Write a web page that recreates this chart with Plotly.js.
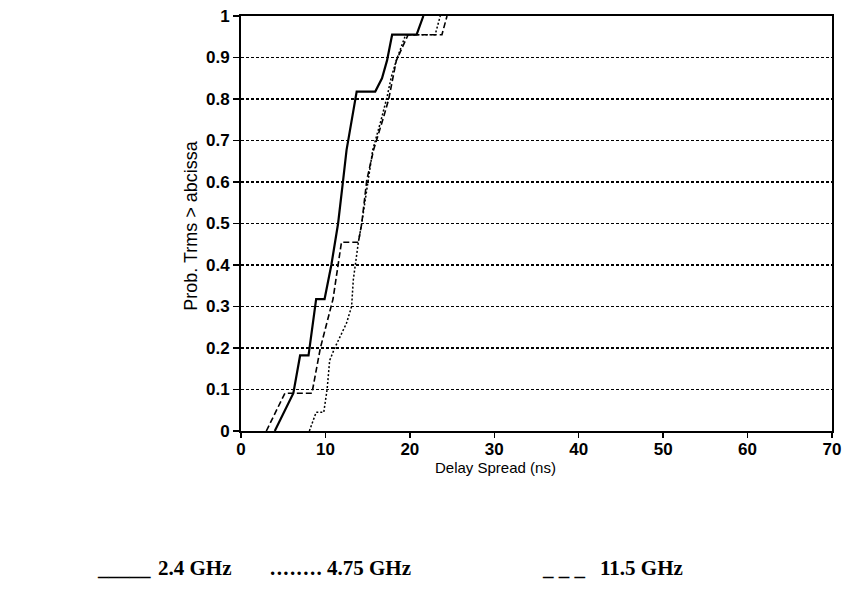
<!DOCTYPE html>
<html>
<head>
<meta charset="utf-8">
<script src="https://cdn.plot.ly/plotly-3.0.1.min.js"></script>
<style>
  html, body { margin: 0; padding: 0; background: #fff; }
  #chart { width: 845px; height: 590px; }
</style>
</head>
<body>
<div id="chart"></div>
<script>
// Cumulative distributions of RMS delay spread (ns) at three carrier frequencies
const delay24 = [4.0, 6.2, 7.0, 8.0, 8.9, 9.9, 10.7, 11.5, 12.1, 12.5, 13.7, 15.9, 16.7, 17.3, 17.9, 20.8, 21.6];
const prob24  = [0, 0.091, 0.182, 0.182, 0.318, 0.318, 0.40, 0.50, 0.605, 0.677, 0.818, 0.818, 0.85, 0.893, 0.955, 0.955, 1.0];

const delay475 = [8.1, 8.9, 9.8, 10.2, 10.5, 11.1, 12.5, 13.1, 13.3, 13.9, 14.3, 15.0, 15.6, 16.6, 17.3, 17.8, 18.4, 19.5, 23.0, 23.6];
const prob475  = [0, 0.045, 0.045, 0.10, 0.17, 0.20, 0.26, 0.30, 0.364, 0.455, 0.50, 0.60, 0.677, 0.75, 0.805, 0.853, 0.893, 0.955, 0.955, 1.0];

const delay115 = [3.0, 5.2, 8.4, 9.4, 10.9, 11.9, 13.9, 14.3, 14.9, 15.7, 16.9, 17.5, 18.4, 19.8, 23.8, 24.4];
const prob115  = [0, 0.091, 0.091, 0.20, 0.318, 0.455, 0.455, 0.50, 0.605, 0.677, 0.757, 0.80, 0.893, 0.955, 0.955, 1.0];

const xTicks = [0, 10, 20, 30, 40, 50, 60, 70];
const yTicks = [0, 0.1, 0.2, 0.3, 0.4, 0.5, 0.6, 0.7, 0.8, 0.9, 1];
const yTickText = ['0', '0.1', '0.2', '0.3', '0.4', '0.5', '0.6', '0.7', '0.8', '0.9', '1'];

// key line under the chart: line sample + frequency label
const legendSamples = ['_____', '........', '_ _ _'];
const legendLabels = ['2.4 GHz', '4.75 GHz', '11.5 GHz'];

// plot box in pixels
const L = 241, R = 13, T = 16, B = 158.5;
const W = 845, H = 590;
const pw = W - L - R, ph = H - T - B;
const px = x => (x - L) / pw;
const py = y => (H - B - y) / ph;

const traces = [
  { x: delay24, y: prob24, mode: 'lines', line: { color: '#000', width: 2.2 }, hoverinfo: 'skip' },
  { x: delay475, y: prob475, mode: 'lines', line: { color: '#000', width: 1.5, dash: '2px,2px' }, hoverinfo: 'skip' },
  { x: delay115, y: prob115, mode: 'lines', line: { color: '#000', width: 1.6, dash: '6px,3px' }, hoverinfo: 'skip' }
];

const tickFont = { family: 'Liberation Sans, Arial, sans-serif', size: 17, color: '#000', weight: 'bold' };

const annotations = [
  { text: 'Delay Spread (ns)', xref: 'paper', yref: 'paper', x: px(495), y: py(468),
    xanchor: 'center', yanchor: 'middle', showarrow: false,
    font: { family: 'Liberation Sans, Arial, sans-serif', size: 15, color: '#000' } },
  { text: 'Prob. Trms &gt; abcissa', xref: 'paper', yref: 'paper', x: px(191), y: py(226),
    xanchor: 'center', yanchor: 'middle', textangle: -90, showarrow: false,
    font: { family: 'Liberation Sans, Arial, sans-serif', size: 18, color: '#000' } }
];

const legendFont = { family: 'Liberation Serif, Times New Roman, serif', size: 21, color: '#000', weight: 'bold' };
const sampleX = [95, 268, 540];
const labelX = [156, 325, 598];
legendSamples.forEach((s, i) => {
  const spacing = i === 1 ? 1.4 : 0;
  annotations.push({
    text: spacing ? '<span style="letter-spacing:' + spacing + 'px">' + s + '</span>' : s,
    xref: 'paper', yref: 'paper', x: px(sampleX[i]), y: py(569),
    xanchor: 'left', yanchor: 'middle', showarrow: false, font: legendFont
  });
  annotations.push({
    text: legendLabels[i], xref: 'paper', yref: 'paper', x: px(labelX[i]), y: py(569),
    xanchor: 'left', yanchor: 'middle', showarrow: false, font: legendFont
  });
});

const layout = {
  width: W, height: H,
  margin: { l: L, r: R, t: T, b: B, pad: 0 },
  paper_bgcolor: '#fff', plot_bgcolor: '#fff',
  showlegend: false,
  xaxis: {
    range: [0, 70], tickvals: xTicks, ticktext: xTicks.map(String),
    showgrid: false, zeroline: false,
    showline: true, mirror: true, linecolor: '#000', linewidth: 2,
    ticks: 'outside', ticklen: 5, tickwidth: 1.5, tickcolor: '#000',
    ticklabelstandoff: -3,
    tickfont: tickFont
  },
  yaxis: {
    range: [0, 1], tickvals: yTicks, ticktext: yTickText,
    showgrid: true, gridcolor: '#000', gridwidth: 1.5, griddash: '3px,2px',
    zeroline: false,
    showline: true, mirror: true, linecolor: '#000', linewidth: 2,
    ticks: 'outside', ticklen: 6, tickwidth: 1.5, tickcolor: '#000',
    tickfont: tickFont
  },
  annotations: annotations
};

Plotly.newPlot('chart', traces, layout, { staticPlot: true, displayModeBar: false });
</script>
</body>
</html>
